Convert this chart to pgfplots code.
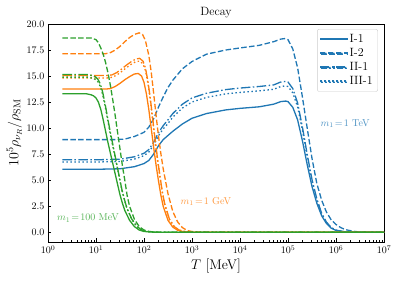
\RequirePackage{fix-cm}
\documentclass[border=0pt]{standalone}
\usepackage{fontspec}
\usepackage{pgfplots}
\pgfplotsset{compat=1.18}
\definecolor{tabblue}{HTML}{1F77B4}
\definecolor{taborange}{HTML}{FF7F0E}
\definecolor{tabgreen}{HTML}{2CA02C}
\tikzset{
  mdash/.style={dash pattern=on 5.5pt off 2.4pt},
  mdashdot/.style={dash pattern=on 9.6pt off 2.4pt on 1.5pt off 2.4pt},
  mdot/.style={dash pattern=on 1.5pt off 2.5pt},
}
\begin{document}
\begin{tikzpicture}
\begin{axis}[
  scale only axis, width=336pt, height=218pt,
  xmode=log, xmin=1, xmax=1e7, ymin=-0.93, ymax=20,
  ytick={0,2.5,5,7.5,10,12.5,15,17.5,20},
  yticklabel style={/pgf/number format/.cd, fixed, fixed zerofill, precision=1},
  tick pos=left, tick align=inside,
  major tick length=3.5pt, minor tick length=2pt,
  axis line style={line width=0.8pt},
  every tick/.style={black, line width=0.6pt},
  title={Decay}, title style={font=\fontsize{12}{14}\selectfont, yshift=-3pt},
  xlabel={$T$ [MeV]}, ylabel={$10^5\rho_{\nu_R}/\rho_{\rm SM}$},
  label style={font=\fontsize{14}{16}\selectfont},
  xlabel style={yshift=2pt},
  ylabel style={yshift=-2pt},
  legend style={at={(rel axis cs:0.982,0.977)}, anchor=north east, draw=black!20, rounded corners=2pt,
    font=\fontsize{12}{14}\selectfont, row sep=0.5pt, inner sep=3pt, cells={anchor=west}},
  every axis plot/.append style={line width=1.3pt},
]
% ---------- blue, m1 = 1 TeV ----------
\addplot[tabblue, legend image code/.code={\fill[tabblue,sharp corners] (0pt,-0.7pt) rectangle (26pt,0.7pt);}] coordinates {
(2,6.05)(10,6.05)(31.62,6.1)(63.1,6.3)(100,6.6)(125.9,6.9)(158.5,7.5)(199.5,8.3)(251.2,8.9)(316.2,9.3)(398.1,9.7)(631,10.4)(1000,10.95)(1995,11.4)(5012,11.75)(1e4,11.9)(2.512e4,12.05)(5.012e4,12.3)(7.079e4,12.55)(8.913e4,12.6)(1e5,12.55)(1.259e5,12.0)(1.585e5,10.8)(1.995e5,8.8)(2.512e5,6.5)(3.162e5,4.4)(3.981e5,2.8)(5.012e5,1.6)(6.31e5,0.85)(7.943e5,0.4)(1e6,0.18)(1.585e6,0.03)(3.162e6,0)(1e7,0)};
\addlegendentry{I-1}
\addplot[tabblue,mdash, legend image code/.code={\fill[tabblue,sharp corners] (0pt,-0.7pt) rectangle (5.5pt,0.7pt) (7.9pt,-0.7pt) rectangle (13.4pt,0.7pt) (15.8pt,-0.7pt) rectangle (21.3pt,0.7pt) (23.7pt,-0.7pt) rectangle (26pt,0.7pt);}] coordinates {
(2,8.9)(25.12,8.9)(39.81,8.95)(63.1,9.2)(100,9.6)(125.9,10.1)(158.5,10.9)(199.5,12.0)(251.2,13.0)(316.2,13.9)(398.1,14.6)(631,15.7)(1000,16.4)(1995,17.1)(5012,17.5)(1e4,17.7)(2.512e4,17.95)(5.012e4,18.3)(7.079e4,18.55)(8.511e4,18.6)(1e5,18.5)(1.259e5,17.6)(1.585e5,15.8)(1.995e5,13.0)(2.512e5,10.0)(3.162e5,7.1)(3.981e5,4.7)(5.012e5,3.1)(6.31e5,1.95)(7.943e5,1.2)(1e6,0.75)(1.259e6,0.45)(1.585e6,0.25)(2.512e6,0.07)(5.012e6,0)(1e7,0)};
\addlegendentry{I-2}
\addplot[tabblue,mdashdot, legend image code/.code={\fill[tabblue,sharp corners] (0pt,-0.7pt) rectangle (9.6pt,0.7pt) (12pt,-0.7pt) rectangle (13.5pt,0.7pt) (15.9pt,-0.7pt) rectangle (25.5pt,0.7pt);}] coordinates {
(2,6.96)(10,6.96)(31.62,7.02)(63.1,7.25)(100,7.59)(125.9,7.94)(158.5,8.63)(199.5,9.55)(251.2,10.24)(316.2,10.8)(398.1,11.4)(631,12.3)(1000,12.9)(1995,13.35)(5012,13.7)(1e4,13.85)(2.512e4,14.0)(5.012e4,14.15)(7.079e4,14.43)(8.913e4,14.49)(1e5,14.43)(1.259e5,13.8)(1.585e5,12.42)(1.995e5,10.12)(2.512e5,7.48)(3.162e5,5.06)(3.981e5,3.22)(5.012e5,1.84)(6.31e5,0.98)(7.943e5,0.46)(1e6,0.21)(1.585e6,0.03)(3.162e6,0)(1e7,0)};
\addlegendentry{II-1}
\addplot[tabblue,mdot, legend image code/.code={\fill[tabblue,sharp corners] (0pt,-0.7pt) rectangle (1.5pt,0.7pt) (4pt,-0.7pt) rectangle (5.5pt,0.7pt) (8pt,-0.7pt) rectangle (9.5pt,0.7pt) (12pt,-0.7pt) rectangle (13.5pt,0.7pt) (16pt,-0.7pt) rectangle (17.5pt,0.7pt) (20pt,-0.7pt) rectangle (21.5pt,0.7pt) (24pt,-0.7pt) rectangle (25.5pt,0.7pt);}] coordinates {
(2,6.75)(10,6.75)(31.62,6.8)(63.1,7.03)(100,7.36)(125.9,7.7)(158.5,8.37)(199.5,9.26)(251.2,9.93)(316.2,10.45)(398.1,11.06)(631,11.93)(1000,12.51)(1995,12.95)(5012,13.29)(1e4,13.43)(2.512e4,13.58)(5.012e4,13.73)(7.079e4,14.0)(8.913e4,14.06)(1e5,14.0)(1.259e5,13.39)(1.585e5,12.05)(1.995e5,9.82)(2.512e5,7.26)(3.162e5,4.91)(3.981e5,3.12)(5.012e5,1.78)(6.31e5,0.95)(7.943e5,0.45)(1e6,0.2)(1.585e6,0.03)(3.162e6,0)(1e7,0)};
\addlegendentry{III-1}
% ---------- orange, m1 = 1 GeV ----------
\addplot[taborange,forget plot] coordinates {
(2,13.75)(15.85,13.75)(19.95,13.8)(25.12,14.0)(31.62,14.3)(39.81,14.65)(50.12,14.95)(63.1,15.2)(75.86,15.25)(89.13,15.0)(100,14.4)(112.2,13.3)(125.9,11.8)(141.3,10.0)(158.5,8.2)(177.8,6.5)(199.5,5.0)(223.9,3.6)(251.2,2.5)(316.2,1.15)(398.1,0.5)(501.2,0.2)(631,0.08)(1000,0.01)(1995,0)(1e7,0)};
\addplot[taborange,mdash,forget plot] coordinates {
(2,17.15)(15.85,17.15)(19.95,17.25)(25.12,17.5)(31.62,17.85)(39.81,18.3)(50.12,18.7)(63.1,19.0)(79.43,19.15)(93.33,19.0)(107.2,18.4)(125.9,17.0)(141.3,15.4)(158.5,13.4)(177.8,11.3)(199.5,9.3)(223.9,7.6)(251.2,6.1)(316.2,3.7)(398.1,2.0)(501.2,1.0)(631,0.45)(794.3,0.18)(1000,0.07)(1585,0.01)(3162,0)(1e7,0)};
\addplot[taborange,mdashdot,forget plot] coordinates {
(2,15.06)(16.98,15.06)(21.38,15.11)(26.92,15.33)(33.88,15.66)(42.66,16.04)(53.7,16.37)(67.61,16.64)(81.28,16.7)(95.5,16.43)(107.2,15.77)(120.2,14.56)(134.9,12.92)(151.4,10.95)(169.8,8.98)(190.5,7.12)(213.8,5.48)(239.9,3.94)(269.2,2.74)(338.8,1.26)(426.6,0.55)(537,0.22)(676.1,0.09)(1072,0.01)(2138,0)(1e7,0)};
\addplot[taborange,mdot,forget plot] coordinates {
(2,14.82)(16.98,14.82)(21.38,14.88)(26.92,15.09)(33.88,15.42)(42.66,15.79)(53.7,16.12)(67.61,16.39)(81.28,16.44)(95.5,16.17)(107.2,15.52)(120.2,14.34)(134.9,12.72)(151.4,10.78)(169.8,8.84)(190.5,7.01)(213.8,5.39)(239.9,3.88)(269.2,2.7)(338.8,1.24)(426.6,0.54)(537,0.22)(676.1,0.09)(1072,0.01)(2138,0)(1e7,0)};
% ---------- green, m1 = 100 MeV ----------
\addplot[tabgreen,forget plot] coordinates {
(2,13.3)(6.31,13.3)(7.943,13.2)(8.913,13.1)(10,12.9)(11.22,12.5)(12.59,11.8)(14.13,10.8)(15.85,9.7)(17.78,8.6)(19.95,7.6)(22.39,6.6)(25.12,5.6)(28.18,4.6)(31.62,3.6)(35.48,2.8)(39.81,2.1)(50.12,1.15)(63.1,0.55)(79.43,0.22)(100,0.08)(158.5,0.01)(316.2,0)(1e7,0)};
\addplot[tabgreen,mdash,forget plot] coordinates {
(2,18.65)(7.943,18.65)(10,18.5)(11.22,18.2)(12.59,17.7)(14.13,17.1)(15.85,16.3)(17.78,15.3)(19.95,14.1)(22.39,12.7)(25.12,11.2)(28.18,9.6)(31.62,8.0)(35.48,6.4)(39.81,5.0)(44.67,3.5)(50.12,2.5)(63.1,1.25)(79.43,0.55)(100,0.22)(125.9,0.08)(199.5,0.015)(398.1,0)(1e7,0)};
\addplot[tabgreen,mdashdot,forget plot] coordinates {
(2,15.15)(6.918,15.15)(8.71,15.03)(9.772,14.92)(10.96,14.69)(12.3,14.24)(13.8,13.44)(15.49,12.3)(17.38,11.05)(19.5,9.8)(21.88,8.66)(24.55,7.52)(27.54,6.38)(30.9,5.24)(34.67,4.1)(38.9,3.19)(43.65,2.39)(54.95,1.31)(69.18,0.63)(87.1,0.25)(109.6,0.09)(173.8,0.01)(346.7,0)(1e7,0)};
\addplot[tabgreen,mdot,forget plot] coordinates {
(2,14.9)(6.918,14.9)(8.71,14.78)(9.772,14.67)(10.96,14.45)(12.3,14.0)(13.8,13.22)(15.49,12.1)(17.38,10.86)(19.5,9.63)(21.88,8.51)(24.55,7.39)(27.54,6.27)(30.9,5.15)(34.67,4.03)(38.9,3.14)(43.65,2.35)(54.95,1.29)(69.18,0.62)(87.1,0.25)(109.6,0.09)(173.8,0.01)(346.7,0)(1e7,0)};
% ---------- annotations ----------
\node[text=tabblue!80!white] at (axis cs:1.55e6,10.43) {$m_1\!=\!1$ TeV};
\node[text=taborange!80!white] at (axis cs:1950,2.96) {$m_1\!=\!1$ GeV};
\node[text=tabgreen!80!white] at (axis cs:6.8,1.37) {$m_1\!=\!100$ MeV};
\end{axis}
\path ([xshift=-48pt,yshift=-39pt]current axis.south west) rectangle ([xshift=15pt,yshift=24pt]current axis.north east);
\end{tikzpicture}
\end{document}
